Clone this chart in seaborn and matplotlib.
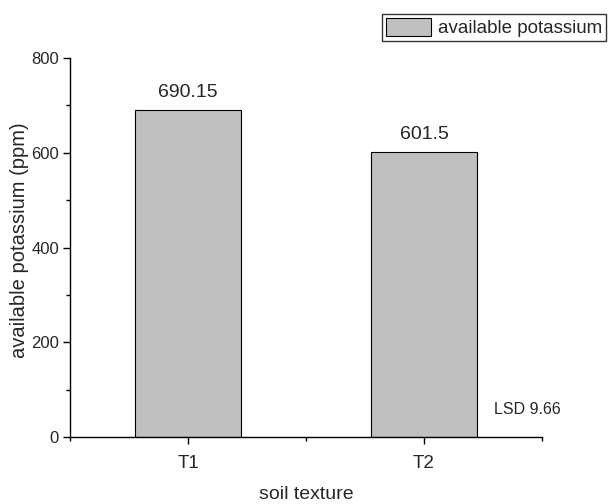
import pandas as pd
import seaborn as sns
import matplotlib.pyplot as plt
from matplotlib.ticker import MultipleLocator, FixedLocator
from matplotlib.patches import Patch

textures = ["T1", "T2"]
potassium = [690.15, 601.5]
value_labels = ["690.15", "601.5"]
lsd_text = "LSD 9.66"

sns.set_style("ticks")
plt.rcParams['font.family'] = ['Liberation Sans', 'DejaVu Sans']

df = pd.DataFrame({"texture": textures, "potassium": potassium})

fig = plt.figure(figsize=(6.08, 5.04), dpi=100)
# axes box in pixels: x 70..542, y 58..437
ax = fig.add_axes([70 / 608, 1 - 437 / 504, 472 / 608, 379 / 504])

sns.barplot(data=df, x="texture", y="potassium", color="#c0c0c0",
            edgecolor="black", linewidth=0.8, width=0.45, saturation=1, ax=ax)

# value labels on top of bars
for i, (v, lab) in enumerate(zip(potassium, value_labels)):
    ax.text(i, v + 20, lab, ha="center", va="bottom", fontsize=14)

ax.text(1.297, 57, lsd_text, ha="left", va="center", fontsize=11.5)

ax.set_xlim(-0.5, 1.5)
ax.set_ylim(0, 800)
ax.yaxis.set_major_locator(MultipleLocator(200))
ax.yaxis.set_minor_locator(MultipleLocator(100))
ax.xaxis.set_minor_locator(FixedLocator([-0.5, 0.5, 1.5]))
ax.tick_params(axis="both", which="both", direction="out", width=1, color="black")
ax.tick_params(axis="both", which="major", length=5)
ax.tick_params(axis="both", which="minor", length=3)
ax.tick_params(axis="y", labelsize=12, pad=3)
ax.tick_params(axis="x", labelsize=13.5, pad=8)

sns.despine(ax=ax)
for s in ["left", "bottom"]:
    ax.spines[s].set_linewidth(1)
    ax.spines[s].set_color("black")

ax.set_xlabel("soil texture", fontsize=14, labelpad=10)
ax.set_ylabel("available potassium (ppm)", fontsize=14.5)
ax.yaxis.set_label_coords(-41 / 472, (437 - 240) / 379)

handle = Patch(facecolor="#c0c0c0", edgecolor="black", linewidth=0.8)
fig.legend([handle], ["available potassium"], loc="upper left",
           bbox_to_anchor=(382 / 608, 1 - 14 / 504), fontsize=13.5,
           frameon=True, fancybox=False, edgecolor="black",
           handlelength=2.4, handleheight=1.1, borderpad=0.2,
           handletextpad=0.4, borderaxespad=0)

fig.savefig("out.png", dpi=100)
